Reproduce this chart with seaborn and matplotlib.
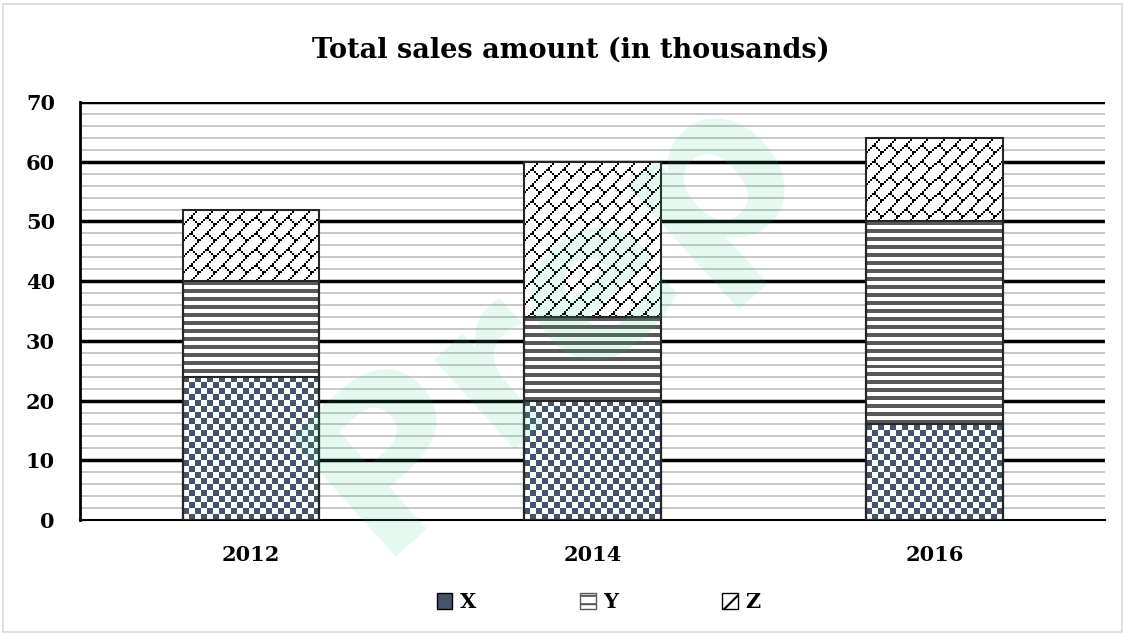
import numpy as np
import pandas as pd
import matplotlib
matplotlib.use("Agg")
import matplotlib.pyplot as plt
import seaborn as sns
from matplotlib.colors import ListedColormap
from matplotlib.patches import Patch, Rectangle

years = ["2012", "2014", "2016"]
x_vals = [24, 20, 16]
y_vals = [16, 14, 34]
z_vals = [12, 26, 14]

df = pd.DataFrame({"year": years, "X": x_vals, "Y": y_vals, "Z": z_vals})
df["XY"] = df["X"] + df["Y"]
df["XYZ"] = df["XY"] + df["Z"]

sns.set_theme(style="white")
plt.rcParams["font.family"] = ["DejaVu Serif"]
plt.rcParams["font.weight"] = "bold"
plt.rcParams["text.color"] = "black"
plt.rcParams["xtick.color"] = "black"
plt.rcParams["ytick.color"] = "black"
plt.rcParams["hatch.linewidth"] = 1.5

slate = "#44546A"
stripe = "#595959"

# fill tiles (1 = coloured pixel)
checker_tile = np.array([[1, 0], [0, 1]])
stripe_tile = np.array([[1], [0]])
brick_tile = np.zeros((8, 8), dtype=int)
for r in range(8):
    brick_tile[r, 7 - r] = 1
for r in range(4, 8):
    brick_tile[r, r] = 1

fig = plt.figure(figsize=(11.25, 6.34), dpi=100)
fig.patch.set_facecolor("white")
ax = fig.add_axes([0.0711, 0.1798, 0.9113, 0.6592])
ax.set_ylim(0, 70)
ax.set_xlim(-0.5, 2.5)

for v in range(2, 70, 2):
    if v % 10:
        ax.axhline(v, color="#BFBFBF", lw=1.2, zorder=0)
for v in range(10, 71, 10):
    ax.axhline(v, color="black", lw=2.5, zorder=0.5)

bw = 0.4
sns.barplot(data=df, x="year", y="XYZ", ax=ax, width=bw, color="white", linewidth=0, zorder=2)
z_patches = list(ax.patches)
sns.barplot(data=df, x="year", y="XY", ax=ax, width=bw, color="white", linewidth=0, zorder=3)
y_patches = list(ax.patches)[len(z_patches):]
sns.barplot(data=df, x="year", y="X", ax=ax, width=bw, color="white", linewidth=0, zorder=4)
x_patches = list(ax.patches)[len(z_patches) + len(y_patches):]

ax.set_xlim(-0.5, 2.5)
ax.set_ylim(0, 70)


def fill_pattern(p, tile, cell_px, color, z):
    x0, y0, w, h = p.get_x(), p.get_y(), p.get_width(), p.get_height()
    (px0, py0), (px1, py1) = ax.transData.transform([(x0, y0), (x0 + w, y0 + h)])
    nx = max(1, int(round((px1 - px0) / cell_px)))
    ny = max(1, int(round((py1 - py0) / cell_px)))
    th, tw = tile.shape
    arr = np.tile(tile, (ny // th + 1, nx // tw + 1))[:ny, :nx]
    im = ax.imshow(arr, extent=(x0, x0 + w, y0, y0 + h), cmap=ListedColormap(["white", color]),
                   vmin=0, vmax=1, interpolation="nearest", aspect="auto", origin="upper",
                   zorder=z)
    im.set_clip_path(p)


for p in z_patches:
    fill_pattern(p, brick_tile, 2.0, "black", 2.5)
for p in y_patches:
    fill_pattern(p, stripe_tile, 4.0, stripe, 3.5)
for p in x_patches:
    fill_pattern(p, checker_tile, 6.0, slate, 4.5)

for p in z_patches + y_patches + x_patches:
    ax.add_patch(Rectangle((p.get_x(), p.get_y()), p.get_width(), p.get_height(),
                           fill=False, edgecolor="#262626", lw=1.5, zorder=6))

ax.set_xlim(-0.5, 2.5)
ax.set_ylim(0, 70)
ax.set_yticks(range(0, 71, 10))
ax.tick_params(axis="both", length=0, labelsize=15)
ax.tick_params(axis="y", pad=18)
ax.tick_params(axis="x", pad=18)
for lbl in ax.get_xticklabels() + ax.get_yticklabels():
    lbl.set_fontweight("bold")
ax.set_xlabel("")
ax.set_ylabel("")
for s in ["top", "right"]:
    ax.spines[s].set_visible(False)
ax.spines["left"].set_color("black")
ax.spines["left"].set_linewidth(2)
ax.spines["bottom"].set_color("black")
ax.spines["bottom"].set_linewidth(1.5)
ax.set_facecolor("white")

fig.text(0.507, 0.921, "Total sales amount (in thousands)", ha="center", va="center",
         fontsize=19.5, fontweight="bold")

handles = [
    Patch(facecolor=slate, edgecolor="black", label="X"),
    Patch(facecolor="white", edgecolor=stripe, hatch="--", label="Y"),
    Patch(facecolor="white", edgecolor="black", hatch="/", label="Z"),
]
fig.legend(handles=handles, loc="center", bbox_to_anchor=(0.532, 0.05), ncol=3,
           frameon=False, handlelength=0.75, handleheight=0.75, handletextpad=0.35,
           columnspacing=5.0, prop={"size": 15, "weight": "bold"})

# watermark
fig.text(0.49, 0.5, "Prep", ha="center", va="center", rotation=42, fontsize=160,
         fontweight="bold", family="DejaVu Sans", color="#2ECC8A", alpha=0.12, zorder=10)

fig.patches.append(Rectangle((0.003, 0.003), 0.994, 0.99, transform=fig.transFigure,
                             fill=False, edgecolor="#D9D9D9", lw=1.2))

fig.savefig("out.png", dpi=100)
